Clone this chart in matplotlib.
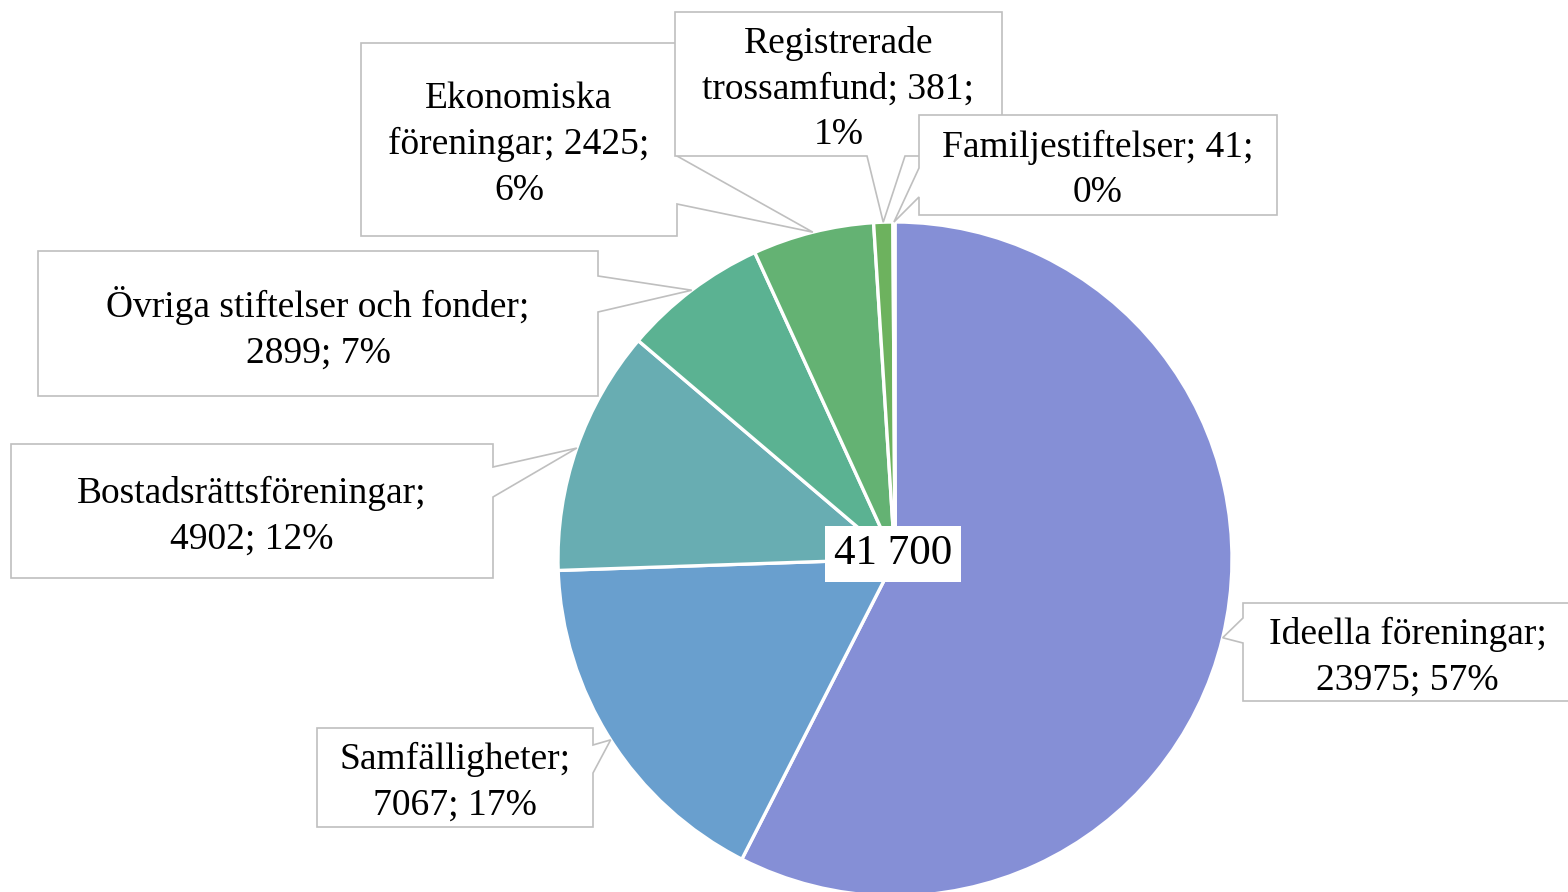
import numpy as np
import matplotlib
matplotlib.use("Agg")
import matplotlib.pyplot as plt
from matplotlib.patches import Polygon

# data
categories = ["Ideella föreningar", "Samfälligheter", "Bostadsrättsföreningar",
              "Övriga stiftelser och fonder", "Ekonomiska föreningar",
              "Registrerade trossamfund", "Familjestiftelser"]
values = [23975, 7067, 4902, 2899, 2425, 381, 41]
pct = [57, 17, 12, 7, 6, 1, 0]
total_label = "41 700"

colors = ["#858FD6", "#699FCE", "#68ADB2", "#5BB292", "#64B273", "#6DB25E", "#78B64E"]

# label texts as wrapped in the original
label_text = [
    "{0};\n{1}; {2}%",
    "{0};\n{1}; {2}%",
    "{0};\n{1}; {2}%",
    "{0};\n{1}; {2}%",
    "Ekonomiska\nföreningar; {1};\n{2}%",
    "Registrerade\ntrossamfund; {1};\n{2}%",
    "{0}; {1};\n{2}%",
]

W, H = 1568, 892
plt.rcParams['font.family'] = ['Liberation Serif', 'DejaVu Serif']

fig = plt.figure(figsize=(W / 100, H / 100), dpi=100)
ax = fig.add_axes([0, 0, 1, 1])

cx, cy, R = 895, H - 559, 337
wedges, _ = ax.pie(values, colors=colors, startangle=90, counterclock=False,
                   center=(cx, cy), radius=R, frame=True,
                   wedgeprops=dict(edgecolor='white', linewidth=2.4))
ax.set_xlim(0, W)
ax.set_ylim(0, H)
ax.set_aspect('equal')
ax.set_axis_off()

# callout boxes in pixel coords (y down): x0, y0, x1, y1, side, attach a, attach b
boxes = [
    (1243, 603, 1572, 701, 'left', 618, 643),
    (317, 728, 593, 827, 'right', 745, 773),
    (11, 444, 493, 578, 'right', 467, 497),
    (38, 251, 598, 396, 'right', 276, 312),
    (361, 43, 677, 236, 'right', 156, 204),
    (675, 12, 1002, 156, 'bottom', 867, 905),
    (919, 115, 1277, 215, 'left', 168, 197),
]

for i, (w, b) in enumerate(zip(wedges, boxes)):
    x0, y0, x1, y1, side, a, bb = b
    mid = np.deg2rad((w.theta1 + w.theta2) / 2)
    tx = w.center[0] + w.r * np.cos(mid)
    ty = H - (w.center[1] + w.r * np.sin(mid))
    if side == 'left':
        pts = [(x0, y0), (x1, y0), (x1, y1), (x0, y1), (x0, bb), (tx, ty), (x0, a)]
    elif side == 'right':
        pts = [(x0, y0), (x1, y0), (x1, a), (tx, ty), (x1, bb), (x1, y1), (x0, y1)]
    else:
        pts = [(x0, y0), (x1, y0), (x1, y1), (bb, y1), (tx, ty), (a, y1), (x0, y1)]
    pts = [(p[0], H - p[1]) for p in pts]
    ax.add_patch(Polygon(pts, closed=True, facecolor='white', edgecolor='#BFBFBF',
                         linewidth=1.2, zorder=3 + i))
    txt = label_text[i].format(categories[i], values[i], pct[i])
    ax.text((x0 + x1) / 2, H - (y0 + y1) / 2 - 5, txt, ha='center', va='center',
            fontsize=27, linespacing=1.42, color='black', zorder=3 + i)

ax.text(cx - 2, H - 554, total_label, ha='center', va='center', fontsize=31,
        color='black', zorder=20,
        bbox=dict(facecolor='white', edgecolor='none', boxstyle='square,pad=0.2'))

fig.savefig("out.png", dpi=100)
